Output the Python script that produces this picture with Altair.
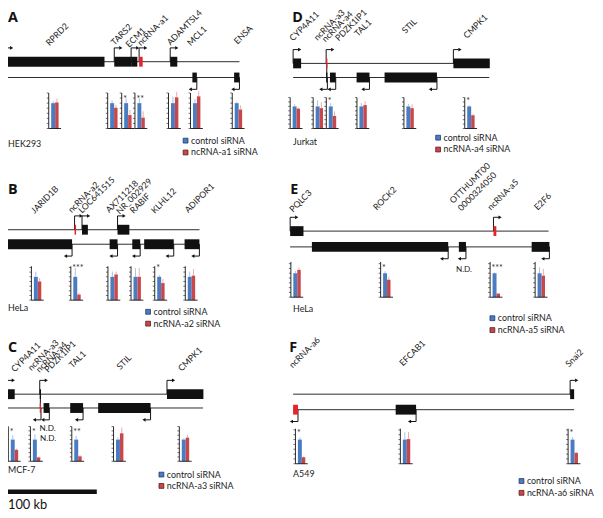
import altair as alt
import pandas as pd

# ---------------------------------------------------------------- data
# Gene models: kb measured from the left end of each panel's region
A_gene   = ["RPRD2", "TARS2", "ECM1", "ncRNA-a1", "ADAMTSL4", "MCL1", "ENSA"]
A_start  = [0, 123, 142, 151, 186, 211, 258]
A_end    = [112, 142, 149, 155, 194, 216, 264]
A_strand = ["+", "+", "+", "+", "+", "-", "-"]

B_gene   = ["JARID1B", "ncRNA-a2", "LOC641515", "NR_002929", "AX711218", "RABIF", "KLHL12", "ADIPOR1"]
B_start  = [0, 78.3, 86.7, 117.8, 126.7, 143.3, 156.7, 202.2]
B_end    = [75.5, 80.0, 93.3, 126.7, 140.0, 152.2, 190.0, 218.9]
B_strand = ["-", "+", "+", "-", "+", "-", "-", "-"]

CD_gene   = ["CYP4A11", "ncRNA-a3", "ncRNA-a4", "PDZK1IP1", "TAL1", "STIL", "CMPK1"]
CD_start  = [0, 37.2, 37.2, 41.5, 71.5, 103.0, 180.5]
CD_end    = [9.0, 38.6, 38.6, 48.0, 86.0, 162.0, 221.5]
CD_strand = ["+", "-", "+", "-", "-", "-", "+"]

E_gene   = ["PQLC3", "ROCK2", "OTTHUMT00000324050", "ncRNA-a5", "E2F6"]
E_start  = [0, 24.5, 190.0, 229.0, 272.0]
E_end    = [15.0, 178.0, 198.0, 232.2, 292.0]
E_strand = ["+", "-", "-", "+", "-"]

F_gene   = ["ncRNA-a6", "EFCAB1", "Snai2"]
F_start  = [0, 115.5, 312.0]
F_end    = [5.5, 138.5, 316.5]
F_strand = ["-", "-", "+"]

# Region lengths (kb) of the + and - strand lines
A_span = [264, 264]
B_span = [219, 219]
CD_span = [221, 221]
E_span = [291, 292]
F_span = [314.5, 316.5]

# Relative expression (control siRNA = 1) with error bars
A_expr_gene = ["RPRD2", "TARS2", "ECM1", "ncRNA-a1", "ADAMTSL4", "MCL1", "ENSA"]
A_ctrl      = [1.0, 1.0, 1.0, 1.0, 1.0, 1.0, 1.0]
A_ctrl_err  = [0.08, 0.10, 0.18, 0.18, 0.26, 0.16, 0.06]
A_si        = [1.03, 0.82, 0.53, 0.43, 1.23, 1.27, 0.75]
A_si_err    = [0.15, 0.12, 0.20, 0.25, 0.22, 0.20, 0.16]
A_sig       = ["", "", "*", "**", "", "", ""]

B_expr_gene = ["JARID1B", "ncRNA-a2", "NR_002929", "RABIF", "KLHL12", "ADIPOR1"]
B_ctrl      = [1.0, 1.0, 1.0, 1.0, 1.0, 1.0]
B_ctrl_err  = [0.22, 0.37, 0.22, 0.37, 0.08, 0.22]
B_si        = [0.80, 0.24, 1.10, 1.00, 0.73, 1.05]
B_si_err    = [0.15, 0.07, 0.12, 0.37, 0.18, 0.28]
B_sig       = ["", "***", "", "", "*", ""]

C_expr_gene = ["CYP4A11", "ncRNA-a3", "TAL1", "STIL", "CMPK1"]
C_ctrl      = [1.0, 1.0, 1.0, 1.0, 1.0]
C_ctrl_err  = [0.20, 0.24, 0.17, 0.10, 0.06]
C_si        = [0.53, 0.18, 0.23, 1.29, 1.09]
C_si_err    = [0.05, 0.04, 0.05, 0.26, 0.12]
C_sig       = ["*", "*", "**", "", ""]

D_expr_gene = ["CYP4A11", "ncRNA-a3", "ncRNA-a4", "TAL1", "STIL", "CMPK1"]
D_ctrl      = [1.0, 1.0, 1.0, 1.0, 1.0, 1.0]
D_ctrl_err  = [0.10, 0.27, 0.15, 0.15, 0.12, 0.05]
D_si        = [0.90, 0.92, 0.57, 1.06, 0.92, 0.60]
D_si_err    = [0.05, 0.27, 0.20, 0.18, 0.18, 0.05]
D_sig       = ["", "", "*", "", "", "*"]

E_expr_gene = ["PQLC3", "ROCK2", "ncRNA-a5", "E2F6"]
E_ctrl      = [1.0, 1.0, 1.0, 1.0]
E_ctrl_err  = [0.10, 0.08, 0.04, 0.25]
E_si        = [1.14, 0.73, 0.15, 0.90]
E_si_err    = [0.10, 0.12, 0.03, 0.28]
E_sig       = ["", "*", "***", ""]

F_expr_gene = ["ncRNA-a6", "EFCAB1", "Snai2"]
F_ctrl      = [1.0, 1.0, 1.0]
F_ctrl_err  = [0.10, 0.30, 0.10]
F_si        = [0.27, 1.02, 0.45]
F_si_err    = [0.04, 0.30, 0.05]
F_sig       = ["*", "", "*"]

CELL_LINES = ["HEK293", "HeLa", "MCF-7", "Jurkat", "HeLa", "A549"]
TARGETS = ["ncRNA-a1", "ncRNA-a2", "ncRNA-a3", "ncRNA-a4", "ncRNA-a5", "ncRNA-a6"]
SCALE_BAR_KB = [0, 100]

# ---------------------------------------------------------------- style / layout
FONT = "Lato"
BLUE, RED, NCRED = "#4a7cc2", "#c8474b", "#e3262b"
BLUE_ERR, RED_ERR = "#a3b8de", "#e7a3a3"
INK = "#111111"
S = 0.9          # px per kb
M = 8            # page margin
W, H = 595, 506
LABEL_SIZE = 8.8

PX_X = alt.Scale(domain=[M, M + W], range=[0, W], zero=False, nice=False)
PX_Y = alt.Scale(domain=[M, M + H], range=[0, H], zero=False, nice=False)


def kb_scale(x0):
    return alt.Scale(domain=[0, 100], range=[x0 - M, x0 - M + 100 * S], zero=False, nice=False)


LAYOUT = {
    "A": dict(x0=5, yp=59, ym=75, base=126.7, unit=25.7, amax=1.4, star_y=1.24,
              bar_kb=[49.2, 115.6, 131.4, 146.3, 184.1, 208.9, 255.9], link=None,
              labels=[("RPRD2", 50, 43.3), ("TARS2", 123.3, 42.7), ("ECM1", 140, 45),
                      ("ncRNA-a1", 153, 43.3), ("ADAMTSL4", 186.3, 42.7),
                      ("MCL1", 209.2, 43.3), ("ENSA", 261.9, 41.7)]),
    "B": dict(x0=5, yp=229.3, ym=244, base=300.7, unit=23.7, amax=1.45, star_y=1.44,
              bar_kb=[29.7, 74.1, 115.9, 141.9, 168.6, 203.0], link=None,
              labels=[("JARID1B", 33.3, 213.3), ("ncRNA-a2", 75.0, 212.7),
                      ("LOC641515", 86.7, 213.2), ("AX711218", 117.5, 212.7),
                      ("NR_002929", 129.2, 214.0), ("RABIF", 144.8, 213.3),
                      ("KLHL12", 168.5, 213.3), ("ADIPOR1", 206.3, 212.7)]),
    "C": dict(x0=6.7, yp=396, ym=410, base=464, unit=22, amax=1.6, star_y=1.4,
              bar_kb=[1.8, 26.7, 73.3, 120.3, 194.4], link=37.9,
              labels=[("CYP4A11", 9.0, 374), ("ncRNA-a3", 27.8, 372.7),
                      ("ncRNA-a4", 37.0, 374.5), ("PDZK1IP1", 46.4, 374.5),
                      ("TAL1", 74, 370), ("STIL", 127.8, 371.7), ("CMPK1", 197, 373.3)]),
    "D": dict(x0=297, yp=60.7, ym=75, base=126.7, unit=22.4, amax=1.4, star_y=1.3,
              bar_kb=[-3.3, 22.6, 37.4, 71.9, 124.8, 193.3], link=37.9,
              labels=[("CYP4A11", 0, 38.5), ("ncRNA-a3", 27.4, 38), ("ncRNA-a4", 36.5, 39.5),
                      ("PDZK1IP1", 51.4, 38.5), ("TAL1", 73, 34), ("STIL", 126.7, 31),
                      ("CMPK1", 195.9, 36)]),
    "E": dict(x0=294, yp=230.7, ym=246.7, base=297.7, unit=24.3, amax=1.47, star_y=1.27,
              bar_kb=[0.8, 101.9, 225.2, 275.9], link=None,
              labels=[("PQLC3", 3.3, 212), ("ROCK2", 97.4, 210), ("OTTHUMT00", 183.7, 203.3),
                      ("0000324050", 193, 210.7), ("ncRNA-a5", 226.3, 210), ("E2F6", 278.9, 210)]),
    "F": dict(x0=297, yp=396, ym=411.7, base=466.5, unit=24.5, amax=1.45, star_y=1.35,
              bar_kb=[2.6, 120.8, 309.7], link=None,
              labels=[("ncRNA-a6", -0.5, 370), ("EFCAB1", 123.7, 368), ("Snai2", 310.8, 369)]),
}

LETTER_POS = {"A": (8, 18.3), "B": (8, 193.3), "C": (8, 353.3),
              "D": (296, 18.3), "E": (294, 193.3), "F": (293, 353.3)}
CELL_POS = [(8, 142), (8, 309), (8, 473), (297, 140), (297, 309.5), (297, 476.5)]
LEGEND_POS = [(188, 139, 151), (150, 312.5, 324.5), (163.5, 477.5, 489),
              (444, 136, 148), (499, 319, 331), (528.5, 484, 496)]
ND_POS = [(40, 431.5), (40.5, 441.5), (462, 270.3)]


def panel_layers(key, genes, start, end, strand, span, hl, expr):
    L = LAYOUT[key]
    xs = kb_scale(L["x0"])
    gap = L["ym"] - L["yp"]
    ts = alt.Scale(domain=[0, 1], range=[L["yp"] - M, L["ym"] - M], zero=False, nice=False)
    vs = alt.Scale(domain=[0, 1], range=[L["base"] - M, L["base"] - M - L["unit"]],
                   zero=False, nice=False)
    out = []

    bb = pd.DataFrame({"s": [0, 1], "a": [0, 0], "b": span})
    out.append(alt.Chart(bb).mark_rule(color="#2b2b2b", strokeWidth=1).encode(
        x=alt.X("a:Q", scale=xs, axis=None), x2="b:Q",
        y=alt.Y("s:Q", scale=ts, axis=None)))

    g = pd.DataFrame({"name": genes, "start": start, "end": end, "strand": strand})
    g["s"] = [0 if s == "+" else 1 for s in g.strand]
    h = 5.0 / gap
    g["y0"] = g.s - h
    g["y1"] = g.s + h
    g["col"] = [NCRED if n == hl else INK for n in g.name]
    g["dir"] = [1 if s == "+" else -1 for s in g.strand]
    g["tss"] = [a if s == "+" else b for a, b, s in zip(g.start, g.end, g.strand)]
    g["ay"] = [-14.0 / gap if s == "+" else 1 + 12.0 / gap for s in g.strand]
    g["hx"] = g.tss + g.dir * 6.0
    g["tip"] = g.tss + g.dir * 7.4
    g["shape"] = ["triangle-right" if d > 0 else "triangle-left" for d in g.dir]

    if L["link"] is not None:
        lk = pd.DataFrame({"x": [L["link"]], "a": [0.0], "b": [1.0]})
        out.append(alt.Chart(lk).mark_rule(color=INK, strokeWidth=1).encode(
            x=alt.X("x:Q", scale=xs, axis=None),
            y=alt.Y("a:Q", scale=ts, axis=None), y2="b:Q"))

    out.append(alt.Chart(g).mark_rule(color=INK, strokeWidth=1).encode(
        x=alt.X("tss:Q", scale=xs, axis=None),
        y=alt.Y("s:Q", scale=ts, axis=None), y2="ay:Q"))
    out.append(alt.Chart(g).mark_rule(color=INK, strokeWidth=1).encode(
        x=alt.X("tss:Q", scale=xs, axis=None), x2="hx:Q",
        y=alt.Y("ay:Q", scale=ts, axis=None)))
    out.append(alt.Chart(g).mark_point(filled=True, size=14, opacity=1, color=INK).encode(
        x=alt.X("tip:Q", scale=xs, axis=None),
        y=alt.Y("ay:Q", scale=ts, axis=None),
        shape=alt.Shape("shape:N", scale=None)))
    out.append(alt.Chart(g).mark_rect().encode(
        x=alt.X("start:Q", scale=xs, axis=None), x2="end:Q",
        y=alt.Y("y0:Q", scale=ts, axis=None), y2="y1:Q",
        color=alt.Color("col:N", scale=None)))

    lab = pd.DataFrame(L["labels"], columns=["t", "kb", "py"])
    out.append(alt.Chart(lab).mark_text(angle=315, align="left", baseline="alphabetic",
                                        font=FONT, fontSize=LABEL_SIZE, color="#1a1a1a").encode(
        x=alt.X("kb:Q", scale=xs, axis=None),
        y=alt.Y("py:Q", scale=PX_Y, axis=None), text="t:N"))

    gname, ctrl, ce, si, se, sig = expr
    e = pd.DataFrame({"gene": gname, "ctrl": ctrl, "ce": ce, "si": si, "se": se, "sig": sig})
    e["ax"] = L["bar_kb"]
    e["ctop"] = e.ctrl + e.ce
    e["stop"] = e.si + e.se
    e["zero"] = 0.0
    e["amax"] = L["amax"]
    e["sy"] = L["star_y"]
    nt = int(round(L["amax"] / 0.2)) + 1
    tk = pd.DataFrame([(a, round(i * 0.2, 2)) for a in L["bar_kb"] for i in range(nt)
                       if i * 0.2 <= L["amax"] + 1e-9], columns=["ax", "t"])

    out.append(alt.Chart(e).mark_rect(color=BLUE, xOffset=2.5, x2Offset=6.5).encode(
        x=alt.X("ax:Q", scale=xs, axis=None), x2="ax:Q",
        y=alt.Y("zero:Q", scale=vs, axis=None), y2="ctrl:Q"))
    out.append(alt.Chart(e).mark_rect(color=RED, xOffset=6.5, x2Offset=10).encode(
        x=alt.X("ax:Q", scale=xs, axis=None), x2="ax:Q",
        y=alt.Y("zero:Q", scale=vs, axis=None), y2="si:Q"))
    out.append(alt.Chart(e).mark_rule(color=BLUE_ERR, strokeWidth=0.9, xOffset=4.5).encode(
        x=alt.X("ax:Q", scale=xs, axis=None),
        y=alt.Y("ctrl:Q", scale=vs, axis=None), y2="ctop:Q"))
    out.append(alt.Chart(e).mark_rule(color=RED_ERR, strokeWidth=0.9, xOffset=8.3).encode(
        x=alt.X("ax:Q", scale=xs, axis=None),
        y=alt.Y("si:Q", scale=vs, axis=None), y2="stop:Q"))
    out.append(alt.Chart(e).mark_rule(color=INK, strokeWidth=0.9).encode(
        x=alt.X("ax:Q", scale=xs, axis=None),
        y=alt.Y("zero:Q", scale=vs, axis=None), y2="amax:Q"))
    out.append(alt.Chart(e).mark_rule(color=INK, strokeWidth=0.9, x2Offset=12.5).encode(
        x=alt.X("ax:Q", scale=xs, axis=None), x2="ax:Q",
        y=alt.Y("zero:Q", scale=vs, axis=None)))
    out.append(alt.Chart(tk).mark_rule(color=INK, strokeWidth=0.6, xOffset=-2).encode(
        x=alt.X("ax:Q", scale=xs, axis=None), x2="ax:Q",
        y=alt.Y("t:Q", scale=vs, axis=None)))
    out.append(alt.Chart(e).mark_text(align="left", baseline="middle", dx=1.5, dy=1.5,
                                      font=FONT, fontSize=9, color="#333333").encode(
        x=alt.X("ax:Q", scale=xs, axis=None),
        y=alt.Y("sy:Q", scale=vs, axis=None), text="sig:N"))
    return out


layers = []
layers += panel_layers("A", A_gene, A_start, A_end, A_strand, A_span, "ncRNA-a1",
                       (A_expr_gene, A_ctrl, A_ctrl_err, A_si, A_si_err, A_sig))
layers += panel_layers("B", B_gene, B_start, B_end, B_strand, B_span, "ncRNA-a2",
                       (B_expr_gene, B_ctrl, B_ctrl_err, B_si, B_si_err, B_sig))
layers += panel_layers("C", CD_gene, CD_start, CD_end, CD_strand, CD_span, "ncRNA-a3",
                       (C_expr_gene, C_ctrl, C_ctrl_err, C_si, C_si_err, C_sig))
layers += panel_layers("D", CD_gene, CD_start, CD_end, CD_strand, CD_span, "ncRNA-a4",
                       (D_expr_gene, D_ctrl, D_ctrl_err, D_si, D_si_err, D_sig))
layers += panel_layers("E", E_gene, E_start, E_end, E_strand, E_span, "ncRNA-a5",
                       (E_expr_gene, E_ctrl, E_ctrl_err, E_si, E_si_err, E_sig))
layers += panel_layers("F", F_gene, F_start, F_end, F_strand, F_span, "ncRNA-a6",
                       (F_expr_gene, F_ctrl, F_ctrl_err, F_si, F_si_err, F_sig))

# panel letters
let = pd.DataFrame([(k, x, y) for k, (x, y) in LETTER_POS.items()], columns=["t", "x", "y"])
layers.append(alt.Chart(let).mark_text(align="left", baseline="alphabetic", font="Open Sans",
                                       fontWeight="bold", fontSize=14.5, color=INK).encode(
    x=alt.X("x:Q", scale=PX_X, axis=None), y=alt.Y("y:Q", scale=PX_Y, axis=None), text="t:N"))

# cell lines
cl = pd.DataFrame({"t": CELL_LINES, "x": [p[0] for p in CELL_POS], "y": [p[1] for p in CELL_POS]})
layers.append(alt.Chart(cl).mark_text(align="left", baseline="middle", font=FONT,
                                      fontSize=9, color="#222222").encode(
    x=alt.X("x:Q", scale=PX_X, axis=None), y=alt.Y("y:Q", scale=PX_Y, axis=None), text="t:N"))

# legends
sq_rows, tx_rows = [], []
for tgt, (lx, y1, y2) in zip(TARGETS, LEGEND_POS):
    sq_rows += [(lx, y1, BLUE, "#1f3a66"), (lx, y2, RED, "#5a1c1c")]
    tx_rows += [("control siRNA", lx + 5.5, y1), (tgt + " siRNA", lx + 5.5, y2)]
sq = pd.DataFrame(sq_rows, columns=["x", "y", "fill", "stroke"])
layers.append(alt.Chart(sq).mark_point(shape="square", filled=True, size=24, opacity=1,
                                       strokeWidth=0.8).encode(
    x=alt.X("x:Q", scale=PX_X, axis=None), y=alt.Y("y:Q", scale=PX_Y, axis=None),
    fill=alt.Fill("fill:N", scale=None), stroke=alt.Stroke("stroke:N", scale=None)))
tx = pd.DataFrame(tx_rows, columns=["t", "x", "y"])
layers.append(alt.Chart(tx).mark_text(align="left", baseline="middle", font=FONT,
                                      fontSize=9, color="#222222").encode(
    x=alt.X("x:Q", scale=PX_X, axis=None), y=alt.Y("y:Q", scale=PX_Y, axis=None), text="t:N"))

# N.D. notes
nd = pd.DataFrame({"t": ["N.D."] * len(ND_POS), "x": [p[0] for p in ND_POS],
                   "y": [p[1] for p in ND_POS]})
layers.append(alt.Chart(nd).mark_text(align="left", baseline="middle", font=FONT,
                                      fontSize=8.3, color="#222222").encode(
    x=alt.X("x:Q", scale=PX_X, axis=None), y=alt.Y("y:Q", scale=PX_Y, axis=None), text="t:N"))

# scale bar
sb = pd.DataFrame({"a": [SCALE_BAR_KB[0]], "b": [SCALE_BAR_KB[1]], "y0": [492.7], "y1": [497.3]})
layers.append(alt.Chart(sb).mark_rect(color=INK).encode(
    x=alt.X("a:Q", scale=kb_scale(8), axis=None), x2="b:Q",
    y=alt.Y("y0:Q", scale=PX_Y, axis=None), y2="y1:Q"))
sbt = pd.DataFrame({"t": [f"{SCALE_BAR_KB[1]} kb"], "x": [8], "y": [508]})
layers.append(alt.Chart(sbt).mark_text(align="left", baseline="middle", font=FONT,
                                       fontSize=13, color=INK).encode(
    x=alt.X("x:Q", scale=PX_X, axis=None), y=alt.Y("y:Q", scale=PX_Y, axis=None), text="t:N"))

chart = alt.layer(*layers).resolve_scale(
    x="independent", y="independent", color="independent", shape="independent",
    fill="independent", stroke="independent"
).properties(
    width=W, height=H, padding=0, autosize=alt.AutoSizeParams(type="none")
).configure_view(stroke=None)

chart.save("out.html", embed_options={"renderer": "svg", "actions": False})
